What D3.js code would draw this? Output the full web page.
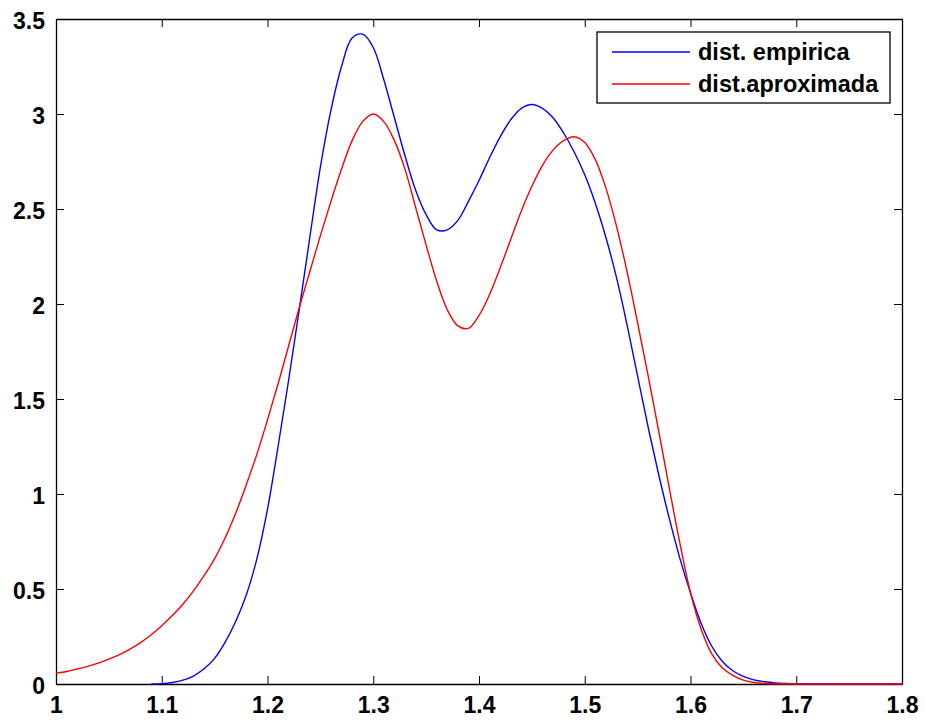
<!DOCTYPE html>
<html>
<head>
<meta charset="utf-8">
<script src="https://cdn.jsdelivr.net/npm/d3@7"></script>
<style>
  body { margin: 0; background: #fff; }
  text { font-family: 'Liberation Sans', Arial, sans-serif; font-weight: bold; }
</style>
</head>
<body>
<div id="container"></div>
<script>
const WIDTH = 925;
const HEIGHT = 722;

const xEmpirica = [1.09, 1.10, 1.11, 1.12, 1.13, 1.14, 1.15, 1.16, 1.17, 1.18, 1.19,
  1.20, 1.21, 1.22, 1.23, 1.24, 1.25, 1.26, 1.27, 1.28, 1.29,
  1.30, 1.31, 1.32, 1.33, 1.34, 1.35, 1.36, 1.37, 1.38, 1.39,
  1.40, 1.41, 1.42, 1.43, 1.44, 1.45, 1.46, 1.47, 1.48, 1.49,
  1.50, 1.51, 1.52, 1.53, 1.54, 1.55, 1.56, 1.57, 1.58, 1.59,
  1.60, 1.61, 1.62, 1.63, 1.64, 1.65, 1.66, 1.67, 1.68, 1.69,
  1.70, 1.72, 1.80];
const yEmpirica = [0, 0.002, 0.008, 0.02, 0.042, 0.08, 0.135, 0.22, 0.33, 0.47, 0.66,
  0.92, 1.25, 1.60, 1.97, 2.35, 2.72, 3.02, 3.25, 3.40, 3.42,
  3.35, 3.18, 2.98, 2.78, 2.60, 2.47, 2.39, 2.39, 2.44, 2.54,
  2.65, 2.77, 2.88, 2.97, 3.03, 3.05, 3.03, 2.98, 2.90, 2.80,
  2.68, 2.53, 2.35, 2.14, 1.89, 1.62, 1.35, 1.10, 0.87, 0.66,
  0.48, 0.32, 0.20, 0.12, 0.07, 0.04, 0.022, 0.012, 0.006, 0.003,
  0.001, 0, 0];

const xAproximada = [1.00, 1.01, 1.02, 1.03, 1.04, 1.05, 1.06, 1.07, 1.08, 1.09,
  1.10, 1.11, 1.12, 1.13, 1.14, 1.15, 1.16, 1.17, 1.18, 1.19,
  1.20, 1.21, 1.22, 1.23, 1.24, 1.25, 1.26, 1.27, 1.28, 1.29,
  1.30, 1.31, 1.32, 1.33, 1.34, 1.35, 1.36, 1.37, 1.38, 1.39,
  1.40, 1.41, 1.42, 1.43, 1.44, 1.45, 1.46, 1.47, 1.48, 1.49,
  1.50, 1.51, 1.52, 1.53, 1.54, 1.55, 1.56, 1.57, 1.58, 1.59,
  1.60, 1.61, 1.62, 1.63, 1.64, 1.65, 1.66, 1.67, 1.68, 1.70, 1.80];
const yAproximada = [0.056, 0.066, 0.079, 0.093, 0.110, 0.131, 0.155, 0.184, 0.218, 0.259,
  0.307, 0.36, 0.42, 0.49, 0.57, 0.66, 0.77, 0.90, 1.05, 1.21,
  1.39, 1.58, 1.78, 1.98, 2.17, 2.36, 2.54, 2.71, 2.86, 2.96,
  3.00, 2.96, 2.86, 2.71, 2.51, 2.31, 2.12, 1.97, 1.885, 1.872,
  1.94, 2.05, 2.19, 2.34, 2.49, 2.62, 2.73, 2.81, 2.86, 2.88,
  2.85, 2.76, 2.61, 2.41, 2.17, 1.90, 1.62, 1.33, 1.03, 0.74,
  0.48, 0.29, 0.16, 0.085, 0.045, 0.02, 0.008, 0.003, 0.001, 0, 0];

const xTicks = [1, 1.1, 1.2, 1.3, 1.4, 1.5, 1.6, 1.7, 1.8];
const yTicks = [0, 0.5, 1, 1.5, 2, 2.5, 3, 3.5];
const seriesNames = ['dist. empirica', 'dist.aproximada'];
const seriesColors = ['#0000ff', '#ff0000'];

const margin = { top: 19, right: 23, bottom: 38, left: 56 };
const innerW = WIDTH - margin.left - margin.right;
const innerH = HEIGHT - margin.top - margin.bottom;

const svg = d3
  .select('#container')
  .append('svg')
  .attr('width', WIDTH)
  .attr('height', HEIGHT);

const g = svg
  .append('g')
  .attr('transform', `translate(${margin.left}, ${margin.top})`);

const x = d3.scaleLinear().domain([1, 1.8]).range([0, innerW]);
const y = d3.scaleLinear().domain([0, 3.5]).range([innerH, 0]);

const fmt = (d) => String(d);

// axes: ticks point inward, mirrored on top and right like a matlab box
const styleAxis = (sel) => {
  sel.select('.domain').attr('stroke', '#000').attr('stroke-width', 1.3);
  sel.selectAll('.tick line').attr('stroke', '#000').attr('stroke-width', 1);
  sel.selectAll('text').attr('fill', '#000').style('font-size', '23px');
};

g.append('g')
  .attr('transform', `translate(0, ${innerH})`)
  .call(d3.axisBottom(x).tickValues(xTicks).tickFormat(fmt).tickSizeInner(-8).tickSizeOuter(0).tickPadding(13))
  .call(styleAxis);

g.append('g')
  .call(d3.axisTop(x).tickValues(xTicks).tickFormat('').tickSizeInner(-8).tickSizeOuter(0))
  .call(styleAxis);

g.append('g')
  .call(d3.axisLeft(y).tickValues(yTicks).tickFormat(fmt).tickSizeInner(-8).tickSizeOuter(0).tickPadding(11))
  .call(styleAxis)
  .selectAll('text')
  .attr('dy', '0.4em');

g.append('g')
  .attr('transform', `translate(${innerW}, 0)`)
  .call(d3.axisRight(y).tickValues(yTicks).tickFormat('').tickSizeInner(-8).tickSizeOuter(0))
  .call(styleAxis);

const line = d3
  .line()
  .x((d) => x(d[0]))
  .y((d) => y(d[1]))
  .curve(d3.curveCatmullRom);

const series = [
  d3.zip(xEmpirica, yEmpirica),
  d3.zip(xAproximada, yAproximada),
];

g.selectAll('.curve')
  .data(series)
  .enter()
  .append('path')
  .attr('class', 'curve')
  .attr('d', line)
  .attr('fill', 'none')
  .attr('stroke', (d, i) => seriesColors[i])
  .attr('stroke-width', 1.4);

// legend
const legend = svg.append('g').attr('transform', 'translate(597, 32)');

legend
  .append('rect')
  .attr('width', 293)
  .attr('height', 71)
  .attr('fill', '#fff')
  .attr('stroke', '#000')
  .attr('stroke-width', 1.3);

const legendItem = legend
  .selectAll('.legend-item')
  .data(seriesNames)
  .enter()
  .append('g')
  .attr('class', 'legend-item')
  .attr('transform', (d, i) => `translate(0, ${20 + i * 32})`);

legendItem
  .append('line')
  .attr('x1', 15)
  .attr('x2', 93)
  .attr('stroke', (d, i) => seriesColors[i])
  .attr('stroke-width', 1.4);

legendItem
  .append('text')
  .attr('x', 101)
  .attr('y', 8)
  .style('font-size', '23.5px')
  .text((d) => d);
</script>
</body>
</html>
